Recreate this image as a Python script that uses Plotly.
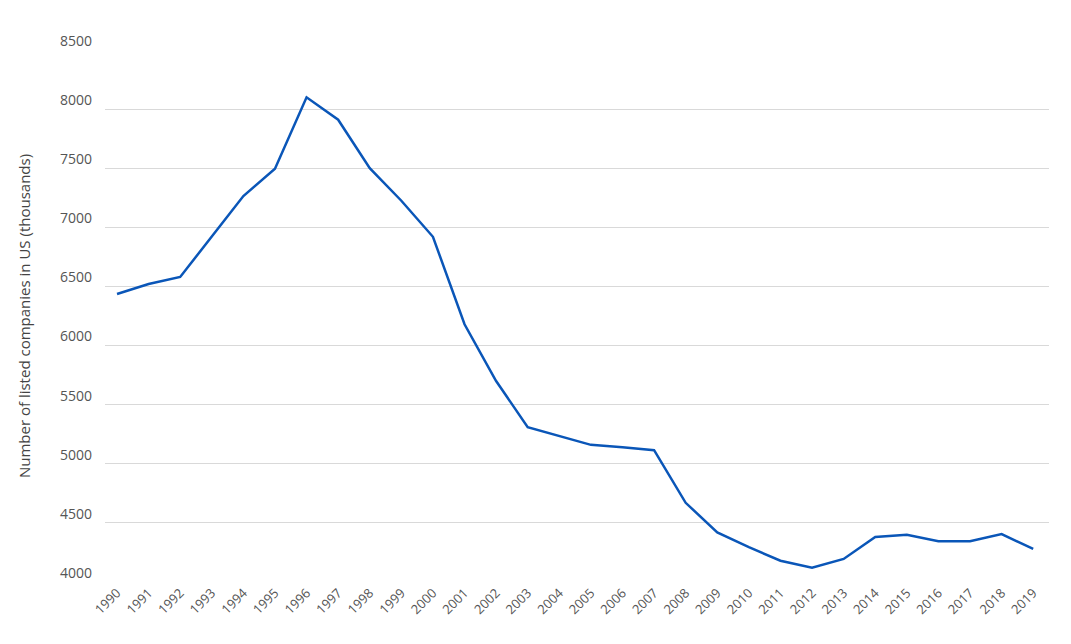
import plotly.graph_objects as go

years = list(range(1990, 2020))
companies = [6436, 6520, 6580, 6920, 7265, 7495, 8100, 7910, 7500, 7225,
             6920, 6180, 5700, 5310, 5235, 5160, 5140, 5115, 4670, 4420,
             4295, 4180, 4120, 4195, 4380, 4400, 4345, 4345, 4405, 4280]

fig = go.Figure()
fig.add_trace(go.Scatter(x=years, y=companies, mode='lines',
                         line=dict(color='#0a56b8', width=2.5)))

fig.update_layout(
    width=1071, height=644,
    margin=dict(l=97, r=30, t=42, b=70),
    plot_bgcolor='white', paper_bgcolor='white',
    font=dict(family='Open Sans', size=14, color='#555555'),
    showlegend=False,
    xaxis=dict(range=[1989.62, 2019.5], tickmode='array', tickvals=years,
               ticktext=[str(y) for y in years], tickangle=-45,
               showgrid=False, showline=False, zeroline=False,
               tickfont=dict(size=13)),
    yaxis=dict(range=[4000, 8500], dtick=500, showgrid=True,
               gridcolor='#d9d9d9', zeroline=False,
               ticklabelshift=-9, ticklabelstandoff=12,
               title=dict(text='Number of listed companies in US (thousands)',
                          font=dict(size=15, color='#444444'), standoff=25)),
)

fig.write_html("out.html")
